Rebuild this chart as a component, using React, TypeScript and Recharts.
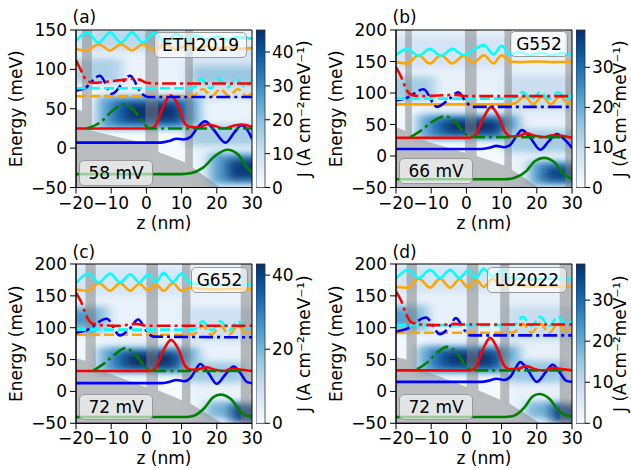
import React from 'react';
import { ComposedChart, Line, Area, XAxis, YAxis, ReferenceArea } from 'recharts';

type Pt = [number, number];

const Z_TICKS = [-20, -10, 0, 10, 20, 30];

// ---------- (a) ETH2019, 58 mV
const aBand: Pt[] = [[-20, 50], [-18.3, 47], [-18.3, 150], [-15.5, 150], [-15.5, 22], [-0.3, 6], [-0.3, 150], [3.4, 150], [3.4, -5], [11, -18], [11, 150], [13.2, 150], [13.2, -25], [21, -50], [30, -50]];
// [z1, z2, E1, E2, J]
const aHeat = [
  [-30, 40, -70, 170, 3], [-24, 12, -60, 24, 0.5], [-24, -12, 40, 78, 1],
  [-20, 12, 122, 155, 9], [-15, 6, 128, 150, 13], [-24, -7, 82, 114, 15],
  [11, 34, 60, 130, 8], [13, 34, 82, 104, 18], [-14, 15, 24, 66, 24],
  [-10, 12, 30, 60, 36], [-6, 9, 35, 56, 46], [11, 34, 3, 30, 16],
  [18, 34, -46, -6, 26], [23, 34, -40, -14, 44],
];
const aCyanTop: Pt[] = [[-20, 136], [-16.8, 147], [-13.6, 134], [-10.3, 147], [-7.2, 134], [-4.1, 147], [-1, 134], [2.2, 146], [5.4, 135], [8.4, 145], [11.2, 138], [14, 143], [17, 138], [20, 142], [23, 138], [26, 141], [30, 139]];
const aOrangeTop: Pt[] = [[-20, 126], [-16.8, 124], [-13.6, 132], [-10.3, 124], [-7.2, 132], [-4.1, 124], [-1, 132], [2.2, 124], [5.4, 132], [8.4, 125], [11.2, 130], [14, 126], [17, 129], [20, 126], [23, 128], [26, 126], [30, 127]];
const aRedDash: Pt[] = [[-20, 112], [-18.5, 98], [-17, 86], [-15, 83], [-12, 84], [-8, 86], [-4, 88], [-2, 87], [0, 83], [3, 82], [30, 82]];
const aBlueDash: Pt[] = [[-20, 73], [-17.5, 76], [-13.2, 92], [-9.8, 69], [-4.6, 92], [-1.5, 70], [0.5, 65], [30, 65]];
const aCyanMid: Pt[] = [[-20, 76], [11, 76], [13.5, 77], [15.5, 88], [18.2, 76], [20.5, 88], [23, 77], [25.5, 88], [28, 78], [30, 86]];
const aOrangeMid: Pt[] = [[-20, 66], [11, 66], [13.5, 67], [16, 75], [18.5, 66], [21, 75], [23.5, 66], [26, 75], [28.5, 66], [30, 70]];
const aGreenDash: Pt[] = [[-17, 25], [-13, 33], [-9.5, 48], [-6.5, 56], [-3.5, 48], [-1, 33], [0.5, 26], [2, 25], [30, 25]];
const aRedSolid: Pt[] = [[-20, 25], [1, 25], [2.5, 28], [4.5, 50], [6.8, 67], [9, 55], [10.8, 32], [12.5, 27], [15, 26], [17, 30], [19.5, 28], [22, 25], [24.5, 28], [27, 30], [30, 27]];
const aBlueSolid: Pt[] = [[-20, 7], [4, 7], [6.5, 9], [8.5, 12], [10.5, 11], [12.5, 14], [14.5, 26], [16.7, 34], [19, 24], [22.5, 7], [25, 20], [27, 29], [28.5, 24], [30, 12]];
const aGreenSolid: Pt[] = [[-20, -33], [10, -33], [12.5, -32], [16, -25], [19.5, -10], [23, -2], [26, -8], [28.5, -24], [30, -32]];

// ---------- (b) G552, 66 mV
const bBand: Pt[] = [[-20, 46], [-17.4, 40], [-17.4, 200], [-15.5, 200], [-15.5, 30], [-0.4, 5], [-0.4, 200], [2.9, 200], [2.9, 0], [10.8, -15], [10.8, 200], [12.9, 200], [12.9, -22], [20.5, -50], [28.1, -50], [28.1, 200], [30, 200]];
const bHeat = [
  [-30, 40, -70, 220, 3], [-24, 12, -60, 24, 0.5], [-24, -12, 40, 80, 1],
  [-22, 12, 140, 190, 7], [-24, -9, 88, 126, 14], [11, 34, 72, 128, 9],
  [-14, 15, 26, 66, 20], [-10, 12, 32, 60, 30], [-6, 9, 37, 56, 39],
  [11, 34, 6, 42, 14], [18, 34, -46, -8, 22], [22, 34, -40, -16, 36],
];
const bCyanTop: Pt[] = [[-20, 160], [-16.8, 170], [-13.6, 159], [-10.4, 170], [-7.2, 159], [-4, 170], [-0.8, 160], [2, 168], [5, 176], [7.7, 161], [10, 175], [12.5, 161], [15, 165], [18, 160], [21, 164], [24, 160], [27, 163], [30, 161]];
const bOrangeTop: Pt[] = [[-20, 149], [-16.8, 147], [-13.6, 160], [-10.4, 147], [-7.2, 160], [-4, 147], [-0.8, 159], [2, 148], [5, 160], [7.7, 147], [10, 160], [12.5, 150], [15, 149], [20, 150], [25, 149], [30, 150]];
const bRedDash: Pt[] = [[-20, 141], [-18.5, 125], [-17, 105], [-15.5, 97], [-13, 95], [-8, 96], [-3, 97], [0, 95], [30, 95]];
const bBlueDash: Pt[] = [[-20, 88], [-17, 92], [-12.2, 106], [-8.4, 78], [-5, 90], [-2.3, 101], [0, 85], [2, 78], [30, 78]];
const bCyanMid: Pt[] = [[-20, 91], [11, 91], [13.5, 92], [16, 101], [18.5, 91], [21, 101], [23.5, 91], [26, 101], [28.5, 92], [30, 97]];
const bOrangeMid: Pt[] = [[-20, 82], [11.5, 82], [14, 84], [16.5, 95], [19, 82], [21.5, 95], [24, 82], [26.5, 95], [29, 83], [30, 86]];
const bGreenDash: Pt[] = [[-16, 30], [-13, 40], [-9.5, 55], [-6, 63], [-3, 53], [-0.5, 36], [1, 31], [3, 30], [28, 30]];
const bRedSolid: Pt[] = [[-20, 29], [1, 29], [2.5, 33], [4.8, 60], [7, 78], [9.2, 62], [11, 38], [12.8, 31], [15, 32], [17, 36], [19.5, 32], [22, 30], [24.5, 33], [27, 32], [30, 29]];
const bBlueSolid: Pt[] = [[-20, 11], [4, 11], [6.5, 13], [8.5, 16], [10.7, 14], [12.5, 18], [14, 30], [15.8, 41], [18, 30], [21, 10], [23.5, 24], [25.7, 35], [27.5, 28], [30, 13]];
const bGreenSolid: Pt[] = [[-20, -37], [11, -37], [13.5, -35], [17, -24], [19.5, -8], [22, -3], [25, -10], [27.5, -28], [30, -37]];

// ---------- (c) G652, 72 mV
const cBand: Pt[] = [[-20, 52], [-17.3, 48], [-17.3, 200], [-14.4, 200], [-14.4, 36], [0, 6], [0, 200], [3.3, 200], [3.3, 2], [10.1, -14], [10.1, 200], [12.5, 200], [12.5, -19], [21.5, -50], [26.8, -50], [26.8, 200], [30, 200]];
const cHeat = [
  [-30, 40, -70, 220, 3], [-24, 12, -60, 27, 0.5], [-24, -12, 45, 88, 1],
  [-22, 12, 150, 195, 7], [-24, -11, 92, 134, 18], [-24, -15, 104, 126, 26],
  [11, 34, 78, 132, 9], [-14, 15, 28, 70, 20], [-10, 11, 34, 64, 32],
  [-6, 8, 38, 60, 43], [11, 28, 14, 46, 16], [17, 27, -42, -16, 20], [24, 34, -48, -20, 40],
];
const cCyanTop: Pt[] = [[-20, 170], [-16.5, 185], [-13.5, 171], [-10.3, 185], [-7.5, 171], [-4.6, 184], [-2, 171], [0.5, 184], [2.7, 172], [4.9, 186], [7.5, 172], [10, 185], [12.5, 170], [16, 168], [20, 167], [25, 168], [30, 168]];
const cOrangeTop: Pt[] = [[-20, 160], [-16.5, 158], [-13.5, 170], [-10.3, 158], [-7.5, 170], [-4.6, 158], [-2, 169], [0.5, 158], [2.7, 168], [4.9, 158], [7.5, 170], [10, 158], [12.5, 163], [16, 161], [20, 160], [25, 161], [30, 160]];
const cRedDash: Pt[] = [[-20, 155], [-18.5, 140], [-17, 118], [-15.5, 107], [-13, 104], [-8, 103], [-3, 106], [-1, 104], [1, 103], [30, 103]];
const cBlueDash: Pt[] = [[-20, 92], [-17, 96], [-11.3, 114], [-7.5, 88], [-5, 97], [-2.3, 113], [0, 95], [2, 86], [30, 85]];
const cCyanMid: Pt[] = [[-20, 97], [11, 97], [13.5, 97], [16, 110], [18.5, 96], [21, 110], [23.5, 96], [26, 110], [28.5, 97], [30, 104]];
const cOrangeMid: Pt[] = [[-20, 89], [11, 89], [13.5, 90], [16, 103], [18.5, 89], [21, 103], [23.5, 89], [26, 103], [28.5, 90], [30, 96]];
const cGreenDash: Pt[] = [[-15, 33], [-12, 44], [-9, 58], [-6, 68], [-3, 57], [-0.5, 40], [1, 34], [3, 32], [28, 32]];
const cRedSolid: Pt[] = [[-20, 32], [1, 32], [2.5, 36], [4.8, 64], [7, 81], [9.2, 65], [11, 40], [12.8, 34], [15, 35], [17, 38], [19.5, 34], [22, 32], [24.5, 36], [27, 34], [30, 32]];
const cBlueSolid: Pt[] = [[-20, 13], [4, 13], [6.5, 15], [8.5, 18], [10.7, 16], [12.5, 21], [13.8, 32], [15.3, 43], [17.5, 30], [20, 12], [22.5, 27], [24.8, 39], [26.8, 28], [28.5, 15], [30, 13]];
const cGreenSolid: Pt[] = [[-20, -40], [11, -40], [13.5, -38], [16.5, -26], [19, -9], [21, -5], [24, -12], [27, -33], [30, -40]];

// ---------- (d) LU2022, 72 mV
const dBand: Pt[] = [[-20, 54], [-17, 50], [-17, 200], [-14.1, 200], [-14.1, 37], [0.1, 7], [0.1, 200], [3.4, 200], [3.4, 2], [9.6, -13], [9.6, 200], [12.2, 200], [12.2, -19], [21, -50], [26.5, -50], [26.5, 200], [30, 200]];
const dHeat = [
  [-30, 40, -70, 220, 3], [-24, 12, -60, 28, 0.5], [-24, -12, 45, 90, 1],
  [-22, 12, 155, 198, 7], [-24, -11, 94, 136, 16], [-24, -15, 104, 128, 22],
  [11, 34, 80, 134, 9], [-14, 15, 28, 72, 19], [-10, 11, 35, 66, 30],
  [-6, 8, 40, 62, 38], [11, 28, 14, 48, 15], [17, 27, -42, -16, 18], [24, 34, -48, -20, 36],
];
const dCyanTop: Pt[] = [[-20, 177], [-16.5, 191], [-13.5, 178], [-10.3, 191], [-7.5, 178], [-4.6, 191], [-2, 178], [0.5, 190], [2.7, 178], [4.9, 193], [7.5, 180], [10, 190], [12.5, 178], [16, 177], [20, 176], [25, 177], [30, 176]];
const dOrangeTop: Pt[] = [[-20, 164], [-16.5, 163], [-13.5, 177], [-10.3, 163], [-7.5, 177], [-4.6, 163], [-2, 176], [0.5, 163], [2.7, 176], [4.9, 164], [7.5, 177], [10, 164], [12.5, 168], [16, 166], [20, 165], [25, 165], [30, 164]];
const dRedDash: Pt[] = [[-20, 157], [-18.5, 142], [-17, 120], [-15.5, 108], [-13, 105], [-8, 104], [-3, 106], [-1, 105], [1, 105], [30, 105]];
const dBlueDash: Pt[] = [[-20, 94], [-17, 98], [-11.5, 116], [-7.5, 90], [-5, 100], [-3, 115], [-0.5, 96], [1, 88], [30, 88]];
const dCyanMid: Pt[] = [[-20, 104], [11, 104], [13.5, 104], [16, 117], [18.5, 103], [21, 117], [23.5, 103], [26, 117], [28.5, 104], [30, 112]];
const dOrangeMid: Pt[] = [[-20, 92], [11, 92], [13.5, 93], [16, 106], [18.5, 92], [21, 106], [23.5, 92], [26, 106], [28.5, 93], [30, 99]];
const dGreenDash: Pt[] = [[-14, 35], [-11, 46], [-8.5, 60], [-5.5, 70], [-2.5, 59], [-0.5, 42], [1, 35], [3, 33], [28, 33]];
const dRedSolid: Pt[] = [[-20, 33], [1, 33], [2.5, 37], [4.7, 66], [6.7, 84], [8.8, 67], [10.6, 42], [12.3, 35], [15, 36], [17, 40], [19.5, 35], [22, 33], [24.5, 37], [27, 35], [30, 33]];
const dBlueSolid: Pt[] = [[-20, 15], [4, 15], [6.5, 17], [8.5, 20], [10.7, 18], [12.5, 23], [13.8, 35], [15.3, 46], [17.5, 33], [20, 15], [22.5, 30], [24.5, 42], [26.5, 30], [28.3, 17], [30, 15]];
const dGreenSolid: Pt[] = [[-20, -40], [11, -40], [13.5, -38], [16.5, -25], [18.8, -8], [20.7, -4], [23.5, -11], [26.5, -32], [30, -40]];

const BLUES = ['#f7fbff', '#deebf7', '#c6dbef', '#9ecae1', '#6baed6', '#4292c6', '#2171b5', '#08519c', '#08306b'];
const DASHDOT = '14 4 3 4';
const DASHED = '10 4';
const FONT = "'DejaVu Sans', sans-serif";

const hex = (h: string) => [1, 3, 5].map((i) => parseInt(h.slice(i, i + 2), 16));
const blues = (t: number) => {
  const s = Math.max(0, Math.min(1, t)) * 8;
  const i = Math.min(7, Math.floor(s));
  const f = s - i;
  const a = hex(BLUES[i]);
  const b = hex(BLUES[i + 1]);
  const c = a.map((v, k) => Math.round(v + (b[k] - v) * f));
  return `rgb(${c[0]},${c[1]},${c[2]})`;
};

const pts = (arr: Pt[]) => arr.map(([z, e]) => ({ z, e }));
const fmt = (v: number) => String(v).replace('-', '\u2212');

const heatShape = (fid: string) => (p: any) => (
  <g clipPath={p.clipPath}>
    <defs>
      <filter id={fid} x="-40%" y="-100%" width="180%" height="300%">
        <feGaussianBlur stdDeviation="6 3" />
      </filter>
    </defs>
    <rect x={p.x} y={p.y} width={p.width} height={p.height} fill={p.fill} filter={`url(#${fid})`} />
  </g>
);

const cbShape = (gid: string) => (p: any) => (
  <g>
    <defs>
      <linearGradient id={gid} x1="0" y1="1" x2="0" y2="0">
        {BLUES.map((c, i) => <stop key={i} offset={i / 8} stopColor={c} />)}
      </linearGradient>
    </defs>
    <rect x={p.x} y={p.y} width={p.width} height={p.height} fill={`url(#${gid})`} stroke="#333" strokeWidth={0.8} />
  </g>
);

const ORDER = ['greenSolid', 'blueSolid', 'redSolid', 'greenDash', 'orangeMid', 'blueDash', 'cyanMid', 'redDash', 'orangeTop', 'cyanTop'];
const STYLE: Record<string, { c: string; d?: string }> = {
  greenSolid: { c: '#008000' },
  blueSolid: { c: '#0000ff' },
  redSolid: { c: '#ff0000' },
  greenDash: { c: '#008000', d: DASHDOT },
  orangeMid: { c: '#ffa500', d: DASHED },
  blueDash: { c: '#0000ff', d: DASHDOT },
  cyanMid: { c: '#00ffff', d: DASHED },
  redDash: { c: '#ff0000', d: DASHDOT },
  orangeTop: { c: '#ffa500' },
  cyanTop: { c: '#00ffff' },
};

const PANELS = [
  {
    key: 'a', tag: '(a)', name: 'ETH2019', bias: '58 mV', left: 0, plotTop: 29.5, plotH: 157.5, yMax: 150,
    yTicks: [-50, 0, 50, 100, 150], cMax: 46.5, cTicks: [0, 10, 20, 30, 40], band: aBand, heat: aHeat, orangeMidSolid: false,
    curves: { cyanTop: aCyanTop, orangeTop: aOrangeTop, redDash: aRedDash, blueDash: aBlueDash, cyanMid: aCyanMid, orangeMid: aOrangeMid, greenDash: aGreenDash, redSolid: aRedSolid, blueSolid: aBlueSolid, greenSolid: aGreenSolid },
    nameBox: { x: 154, y: 32, w: 93 }, biasBox: { x: 79, y: 160 }, tagPos: { x: 72.5, y: 7 }, cbLabelOffset: 32,
  },
  {
    key: 'b', tag: '(b)', name: 'G552', bias: '66 mV', left: 320, plotTop: 29.5, plotH: 157.5, yMax: 200,
    yTicks: [-50, 0, 50, 100, 150, 200], cMax: 39.3, cTicks: [0, 10, 20, 30], band: bBand, heat: bHeat, orangeMidSolid: true,
    curves: { cyanTop: bCyanTop, orangeTop: bOrangeTop, redDash: bRedDash, blueDash: bBlueDash, cyanMid: bCyanMid, orangeMid: bOrangeMid, greenDash: bGreenDash, redSolid: bRedSolid, blueSolid: bBlueSolid, greenSolid: bGreenSolid },
    nameBox: { x: 510, y: 31, w: 58 }, biasBox: { x: 399, y: 158 }, tagPos: { x: 392.5, y: 7 }, cbLabelOffset: 36.5,
  },
  {
    key: 'c', tag: '(c)', name: 'G652', bias: '72 mV', left: 0, plotTop: 264, plotH: 159.3, yMax: 200,
    yTicks: [-50, 0, 50, 100, 150, 200], cMax: 43, cTicks: [0, 20, 40], band: cBand, heat: cHeat, orangeMidSolid: false,
    curves: { cyanTop: cCyanTop, orangeTop: cOrangeTop, redDash: cRedDash, blueDash: cBlueDash, cyanMid: cCyanMid, orangeMid: cOrangeMid, greenDash: cGreenDash, redSolid: cRedSolid, blueSolid: cBlueSolid, greenSolid: cGreenSolid },
    nameBox: { x: 191, y: 267, w: 57 }, biasBox: { x: 79, y: 394 }, tagPos: { x: 72.5, y: 242 }, cbLabelOffset: 32,
  },
  {
    key: 'd', tag: '(d)', name: 'LU2022', bias: '72 mV', left: 320, plotTop: 264, plotH: 159.3, yMax: 200,
    yTicks: [-50, 0, 50, 100, 150, 200], cMax: 38.8, cTicks: [0, 10, 20, 30], band: dBand, heat: dHeat, orangeMidSolid: false,
    curves: { cyanTop: dCyanTop, orangeTop: dOrangeTop, redDash: dRedDash, blueDash: dBlueDash, cyanMid: dCyanMid, orangeMid: dOrangeMid, greenDash: dGreenDash, redSolid: dRedSolid, blueSolid: dBlueSolid, greenSolid: dGreenSolid },
    nameBox: { x: 487, y: 267, w: 80 }, biasBox: { x: 399, y: 394 }, tagPos: { x: 392.5, y: 242 }, cbLabelOffset: 36.5,
  },
];

const boxStyle: React.CSSProperties = {
  position: 'absolute', height: 26, boxSizing: 'border-box', border: '1px solid #999', borderRadius: 5,
  background: 'rgba(255,255,255,0.6)', display: 'flex', alignItems: 'center', justifyContent: 'center',
  fontSize: 17, lineHeight: 1, color: '#000', whiteSpace: 'nowrap',
};

const axisText = { fill: '#000', fontSize: 17 };

function Panel({ p }: { p: any }) {
  const top = p.plotTop - 30;
  const h = 30 + p.plotH + 44;
  return (
    <>
      <div style={{ position: 'absolute', left: p.left, top }}>
        <ComposedChart width={275} height={h} margin={{ top: 30, right: 23, bottom: 0, left: 0 }}>
          <XAxis
            dataKey="z" type="number" domain={[-20, 30]} ticks={Z_TICKS} interval={0} allowDataOverflow
            height={44} stroke="#000" tick={axisText} tickMargin={3} tickFormatter={fmt}
            label={{ value: 'z (nm)', position: 'insideBottom', offset: 3, fill: '#000', fontSize: 17 }}
          />
          <YAxis
            type="number" domain={[-50, p.yMax]} ticks={p.yTicks} interval={0} allowDataOverflow
            width={76} stroke="#000" tick={axisText} tickMargin={3} tickFormatter={fmt}
            label={{ value: 'Energy (meV)', angle: -90, position: 'insideLeft', offset: 15.5, fill: '#000', fontSize: 17, style: { textAnchor: 'middle' } }}
          />
          {p.heat.map((c: number[], i: number) => (
            <ReferenceArea
              key={`h${i}`} x1={c[0]} x2={c[1]} y1={c[2]} y2={c[3]} ifOverflow="hidden"
              fill={blues(c[4] / p.cMax)} stroke="none" zIndex={-60} shape={heatShape(`blur-${p.key}-${i}`)}
            />
          ))}
          <Area
            data={pts(p.band)} dataKey="e" type="linear" baseValue={-50} fill="#808080" fillOpacity={0.5}
            stroke="none" isAnimationActive={false} dot={false} activeDot={false}
          />
          {ORDER.map((role) => {
            const st = STYLE[role];
            const dash = role === 'orangeMid' && p.orangeMidSolid ? undefined : st.d;
            return (
              <Line
                key={role} data={pts(p.curves[role])} dataKey="e" type="monotone" stroke={st.c} strokeWidth={2.6}
                strokeDasharray={dash} dot={false} activeDot={false} isAnimationActive={false}
              />
            );
          })}
          <ReferenceArea x1={-20} x2={30} y1={-50} y2={p.yMax} ifOverflow="visible" fill="none" stroke="#000" strokeWidth={1} zIndex={1500} />
        </ComposedChart>
      </div>
      <div style={{ position: 'absolute', left: p.left + 256, top }}>
        <ComposedChart width={80} height={h} data={[{ x: 0 }, { x: 1 }]} margin={{ top: 30, right: 0, bottom: 44, left: 0 }}>
          <XAxis type="number" dataKey="x" domain={[0, 1]} hide />
          <YAxis
            orientation="right" type="number" domain={[0, p.cMax]} ticks={p.cTicks} interval={0} allowDataOverflow
            width={71} axisLine={false} stroke="#000" tickSize={5} tickMargin={2} tick={axisText}
            label={{ value: 'J (A cm\u207B\u00B2meV\u207B\u00B9)', angle: -90, position: 'insideRight', offset: p.cbLabelOffset, fill: '#000', fontSize: 17, style: { textAnchor: 'middle' } }}
          />
          <ReferenceArea x1={0} x2={1} y1={0} y2={p.cMax} ifOverflow="visible" shape={cbShape(`cb-${p.key}`)} />
        </ComposedChart>
      </div>
      <div style={{ position: 'absolute', left: p.tagPos.x, top: p.tagPos.y, fontSize: 17, color: '#000' }}>{p.tag}</div>
      <div style={{ ...boxStyle, left: p.nameBox.x, top: p.nameBox.y, width: p.nameBox.w }}>{p.name}</div>
      <div style={{ ...boxStyle, left: p.biasBox.x, top: p.biasBox.y, width: 74 }}>{p.bias}</div>
    </>
  );
}

export default function App() {
  return (
    <div style={{ position: 'absolute', left: 0, top: 0, width: 631, height: 468, overflow: 'hidden', background: '#fff', fontFamily: FONT }}>
      {PANELS.map((p) => <Panel key={p.key} p={p} />)}
    </div>
  );
}
